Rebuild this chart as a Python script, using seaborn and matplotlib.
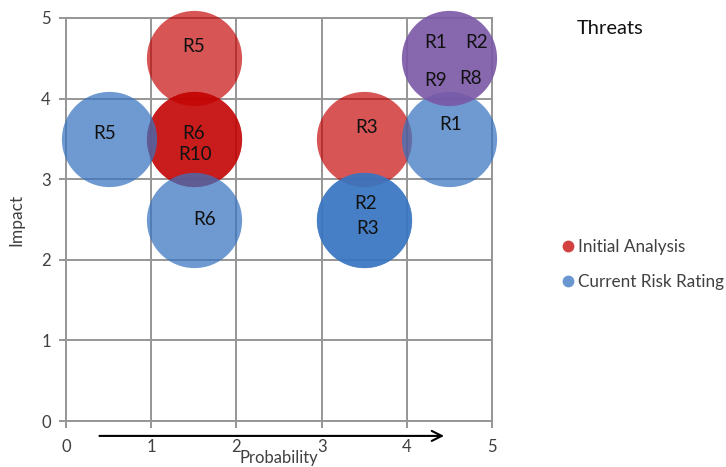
import matplotlib
matplotlib.use("Agg")
import matplotlib.pyplot as plt
from matplotlib.lines import Line2D
import seaborn as sns
import pandas as pd

# bubble data (probability, impact, risk id)
initial_prob = [1.5, 1.5, 1.5, 3.5]
initial_impact = [4.5, 3.5, 3.5, 3.5]
initial_risk = ["R5", "R6", "R10", "R3"]

current_prob = [0.5, 1.5, 3.5, 3.5, 4.5]
current_impact = [3.5, 2.5, 2.5, 2.5, 3.5]
current_risk = ["R5", "R6", "R2", "R3", "R1"]

# risks that sit in the top right cell in both ratings
threat_prob = [4.5, 4.5, 4.5, 4.5]
threat_impact = [4.5, 4.5, 4.5, 4.5]
threat_risk = ["R1", "R2", "R9", "R8"]

series_names = ["Initial Analysis", "Current Risk Rating", "Threats"]
ticks = [0, 1, 2, 3, 4, 5]

red = "#C30000"
blue = "#3875C1"
purple = "#7A58A6"

# label nudges in pixels (dx, dy) so stacked ids stay readable
nudge = {
    ("Initial Analysis", "R5"): (0, 12),
    ("Initial Analysis", "R6"): (0, 5),
    ("Initial Analysis", "R10"): (1, -16),
    ("Initial Analysis", "R3"): (2, 11),
    ("Current Risk Rating", "R5"): (-4, 5),
    ("Current Risk Rating", "R6"): (11, 0),
    ("Current Risk Rating", "R2"): (1, 16),
    ("Current Risk Rating", "R3"): (3, -9),
    ("Current Risk Rating", "R1"): (1, 14),
    ("Threats", "R1"): (-14, 16),
    ("Threats", "R2"): (27, 16),
    ("Threats", "R9"): (-14, -22),
    ("Threats", "R8"): (21, -20),
}

df = pd.concat([
    pd.DataFrame({"Probability": initial_prob, "Impact": initial_impact,
                  "Risk": initial_risk, "Series": series_names[0]}),
    pd.DataFrame({"Probability": current_prob, "Impact": current_impact,
                  "Risk": current_risk, "Series": series_names[1]}),
    pd.DataFrame({"Probability": threat_prob, "Impact": threat_impact,
                  "Risk": threat_risk, "Series": series_names[2]}),
], ignore_index=True)

sns.set_theme(style="white")
plt.rcParams["font.family"] = ["Lato", "DejaVu Sans"]

fig = plt.figure(figsize=(7.26, 4.67), dpi=100)
ax = fig.add_axes([66 / 726, 46 / 467, 426 / 726, 403 / 467])

palette = {series_names[0]: red, series_names[1]: blue, series_names[2]: purple}
alphas = {series_names[0]: 0.667, series_names[1]: 0.73, series_names[2]: 0.9}
for name in series_names:
    sub = df[df["Series"] == name]
    if name == "Threats":
        # one bubble for the shared cell
        sub = sub.drop_duplicates(["Probability", "Impact"])
    sns.scatterplot(data=sub, x="Probability", y="Impact", color=palette[name],
                    s=4700, alpha=alphas[name], linewidth=0, legend=False,
                    ax=ax, zorder=3, clip_on=False)

for _, row in df.iterrows():
    dx, dy = nudge.get((row["Series"], row["Risk"]), (0, 0))
    ax.annotate(row["Risk"], (row["Probability"], row["Impact"]),
                xytext=(dx, dy), textcoords="offset pixels",
                ha="center", va="center", fontsize=13.5, color="#111111",
                zorder=5)

ax.set_xlim(0, 5)
ax.set_ylim(0, 5)
ax.set_xticks(ticks)
ax.set_yticks(ticks)
ax.grid(True, color="#969696", linewidth=1.4, zorder=0)
ax.set_axisbelow(True)
for sp in ax.spines.values():
    sp.set_color("#969696")
    sp.set_linewidth(1.4)
ax.tick_params(axis="both", length=5, width=1.4, color="#969696",
               labelsize=12, labelcolor="#404040", direction="out",
               bottom=True, left=True)
ax.tick_params(axis="x", pad=8)
ax.tick_params(axis="y", pad=6)
ax.set_xlabel("Probability", fontsize=12, color="#404040", labelpad=-4)
ax.set_ylabel("Impact", fontsize=12.5, color="#404040", labelpad=12)

# arrow under the x axis
ax.annotate("", xy=(4.47, -0.185), xytext=(0.36, -0.185),
            xycoords="data", textcoords="data", annotation_clip=False,
            arrowprops=dict(arrowstyle="->", color="black", lw=1.5,
                            mutation_scale=18))

fig.text(577 / 726, 1 - 28 / 467, "Threats", fontsize=14.5, color="#111111",
         va="center", ha="left")
handles = [Line2D([], [], marker="o", linestyle="", markersize=8.5,
                  markerfacecolor=c, markeredgewidth=0, alpha=0.75)
           for c in (red, blue)]
fig.legend(handles, series_names[:2], loc="upper left",
           bbox_to_anchor=(542 / 726, 1 - 224 / 467), frameon=False,
           fontsize=12.3, handletextpad=0.0, handlelength=1.2,
           labelspacing=1.1, labelcolor="#404040")

fig.savefig("out.png", dpi=100)
